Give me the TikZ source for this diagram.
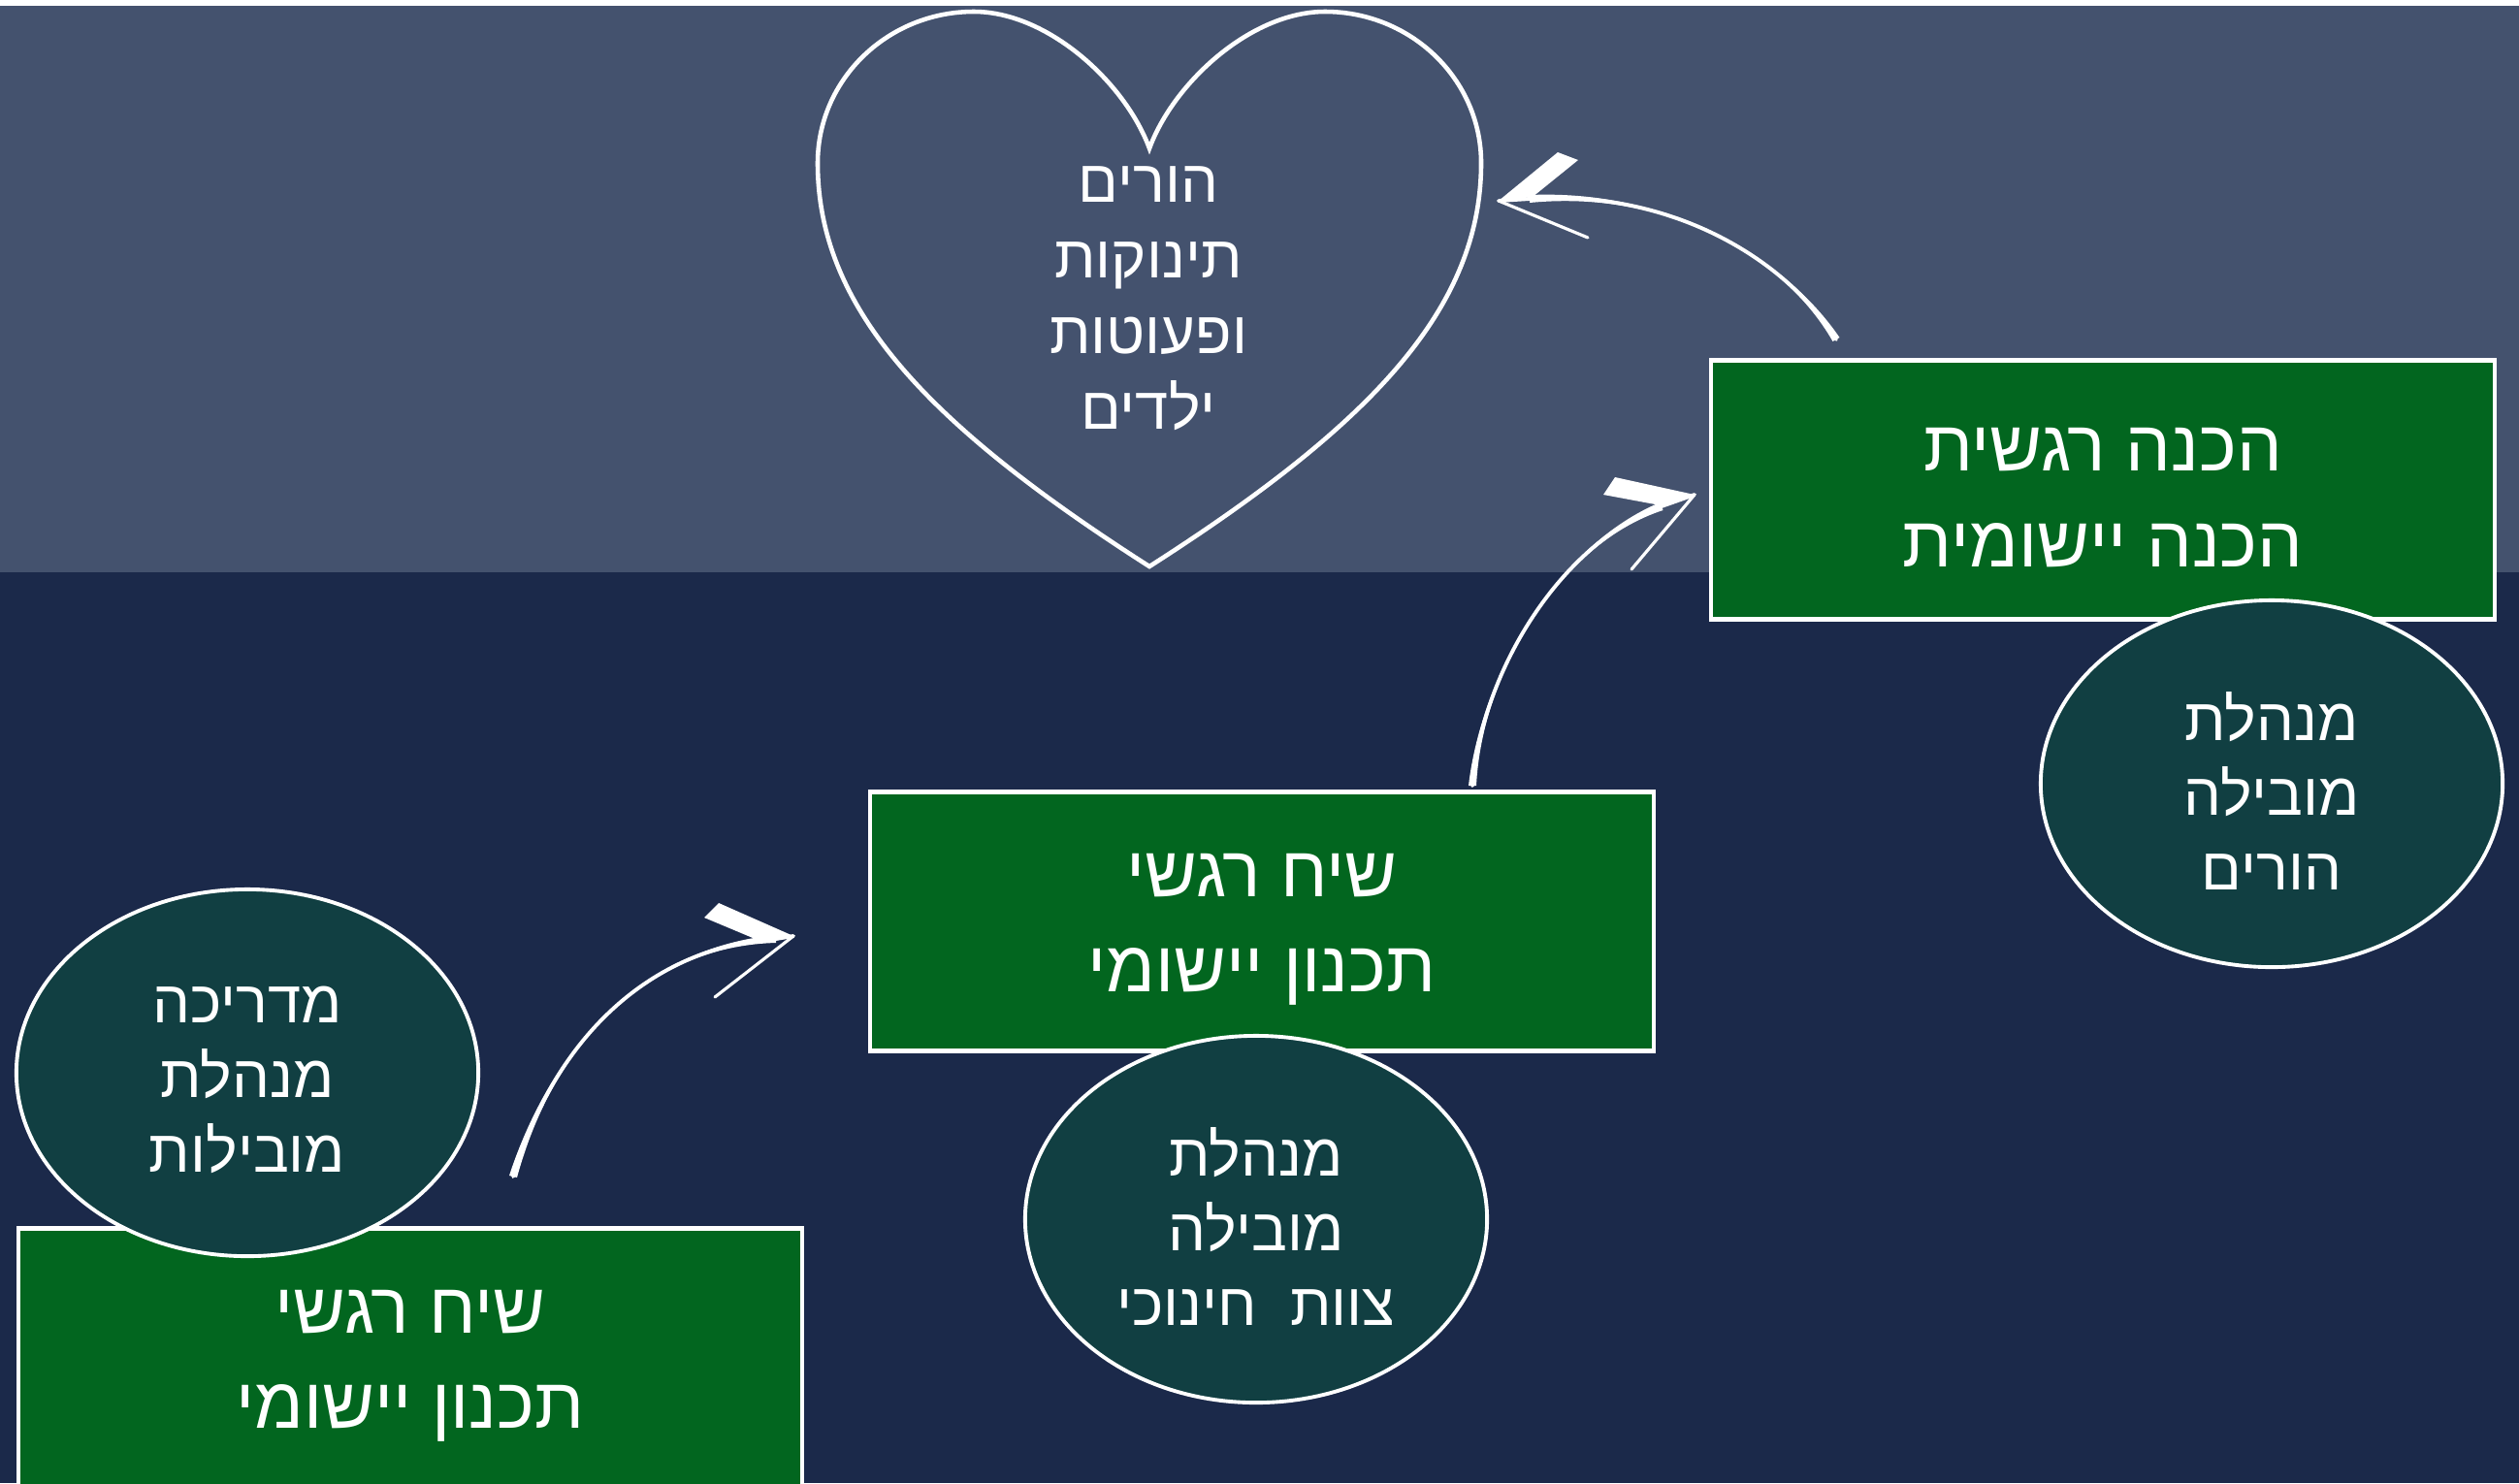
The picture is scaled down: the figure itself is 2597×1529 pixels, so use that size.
\documentclass[tikz,border=0pt]{standalone}
\usepackage{fontspec}
\newfontfamily\hebfont[Script=Hebrew]{Liberation Sans}
\TeXXeTstate=1
\usetikzlibrary{shapes.geometric, calc}
\definecolor{bandtop}{HTML}{44526E}
\definecolor{bandlow}{HTML}{1B294A}
\definecolor{boxgreen}{HTML}{02661F}
\definecolor{bubbleteal}{HTML}{113F42}

\begin{document}
\begin{tikzpicture}[x=0.01cm, y=-0.01cm,
	steptext/.style={text=white, align=center, yshift=-2.3pt, font={\hebfont\fontsize{21}{28}\selectfont}},
	whotext/.style={text=white, align=center, yshift=-2.1pt, font={\hebfont\fontsize{17.5}{22}\selectfont}},
	stepbox/.style={rectangle, draw=white, line width=1.2pt, fill=boxgreen, minimum width=8.07cm, minimum height=2.67cm, label={[steptext]center:#1}},
	whobubble/.style={ellipse, draw=white, line width=1.1pt, fill=bubbleteal, minimum width=4.76cm, minimum height=3.78cm, inner sep=0pt, label={[whotext]center:#1}},
	brushshaft/.style={draw=white, line width=1.1pt, line cap=round},
	barbthin/.style={draw=white, line width=0.9pt, line cap=round}]
				\useasboundingbox (0,0) rectangle (2597,1529);
				\clip (0,0) rectangle (2597,1529);

				% Background bands
				\fill[bandlow] (0,0) rectangle (2597,1529);
				\fill[bandtop] (0,0) rectangle (2597,590);
				\fill[white] (0,0) rectangle (2597,6);

				% Heart
				\draw[white, line width=1.3pt, line join=miter] (1185,584) .. controls (960,440) and (843,320) .. (843,168)
					.. controls (843,82) and (915,12) .. (1004,12)
					.. controls (1080,12) and (1160,85) .. (1185,153)
					.. controls (1210,85) and (1290,12) .. (1366,12)
					.. controls (1455,12) and (1527,82) .. (1527,168)
					.. controls (1527,320) and (1410,440) .. (1185,584) -- cycle;
				\node[text=white, align=center, font={\hebfont\fontsize{17.5}{22.2}\selectfont}] (kids) at (1184,308)
					{\beginR הורים\endR\\\beginR תינוקות\endR\\\beginR ופעוטות\endR\\\beginR ילדים\endR};

				% Arrow ends
				\coordinate (aStart) at (529,1213);
				\coordinate (aEnd) at (800,968);
				\coordinate (aTip) at (818,965);
				\coordinate (aLow) at (737,1028);
				\coordinate (bStart) at (1518,810);
				\coordinate (bEnd) at (1713,522);
				\coordinate (bTip) at (1747,510);
				\coordinate (bLow) at (1682,587);
				\coordinate (cStart) at (1893,350);
				\coordinate (cEnd) at (1577,205);
				\coordinate (cTip) at (1545,207);
				\coordinate (cLow) at (1637,245);

				% Arrow from bottom step to middle step
				\draw[brushshaft] (aStart) .. controls (575,1060) and (680,975) .. (aEnd) -- (aTip);
				\fill[white] ($(aStart)+(4,1)$) .. controls (575,1060) and (680,975) .. ($(aEnd)+(0,4)$)
					-- ($(aEnd)+(0,-4)$) .. controls (680,975) and (575,1060) .. ($(aStart)+(-4,-1)$) -- cycle;
				\fill[white] (741,931) -- (aTip) -- (788,972) -- (726,946) -- cycle;
				\draw[barbthin] (aTip) -- (aLow);

				% Arrow from middle step to top step
				\draw[brushshaft] (bStart) .. controls (1528,690) and (1610,560) .. (bEnd) -- (bTip);
				\fill[white] ($(bStart)+(4,0)$) .. controls (1528,690) and (1610,560) .. ($(bEnd)+(1.5,4)$)
					-- ($(bEnd)+(-1.5,-4)$) .. controls (1610,560) and (1528,690) .. ($(bStart)+(-4,0)$) -- cycle;
				\fill[white] (1665,492) -- (bTip) -- (1712,521) -- (1653,510) -- cycle;
				\draw[barbthin] (bTip) -- (bLow);

				% Arrow from top step to heart
				\draw[brushshaft] (cStart) .. controls (1840,265) and (1720,195) .. (cEnd) -- (cTip);
				\fill[white] ($(cStart)+(3.5,-2)$) .. controls (1840,265) and (1720,195) .. ($(cEnd)+(0,4)$)
					-- ($(cEnd)+(0,-4)$) .. controls (1720,195) and (1840,265) .. ($(cStart)+(-3.5,2)$) -- cycle;
				\fill[white] (1606,157) -- (cTip) -- (1580,203) -- (1627,165) -- cycle;
				\draw[barbthin] (cTip) -- (cLow);

				% Steps
				\node[stepbox={\beginR הכנה רגשית\endR\\\beginR הכנה יישומית\endR}] (prepbox) at (2168,505) {};
				\node[stepbox={\beginR שיח רגשי\endR\\\beginR תכנון יישומי\endR}] (talkmid) at (1301,950) {};
				\node[stepbox={\beginR שיח רגשי\endR\\\beginR תכנון יישומי\endR}] (talklow) at (423,1400) {};

				% Who leads each step
				\node[whobubble={\beginR מנהלת\endR\\\beginR מובילה\endR\\\beginR הורים\endR}] (leadparents) at (2342,808) {};
				\node[whobubble={\beginR מנהלת\endR\\\beginR מובילה\endR\\\beginR צוות~ חינוכי\endR}] (leadstaff) at (1295,1257) {};
				\node[whobubble={\beginR מדריכה\endR\\\beginR מנהלת\endR\\\beginR מובילות\endR}] (leadguide) at (255,1106) {};
\end{tikzpicture}
\end{document}
